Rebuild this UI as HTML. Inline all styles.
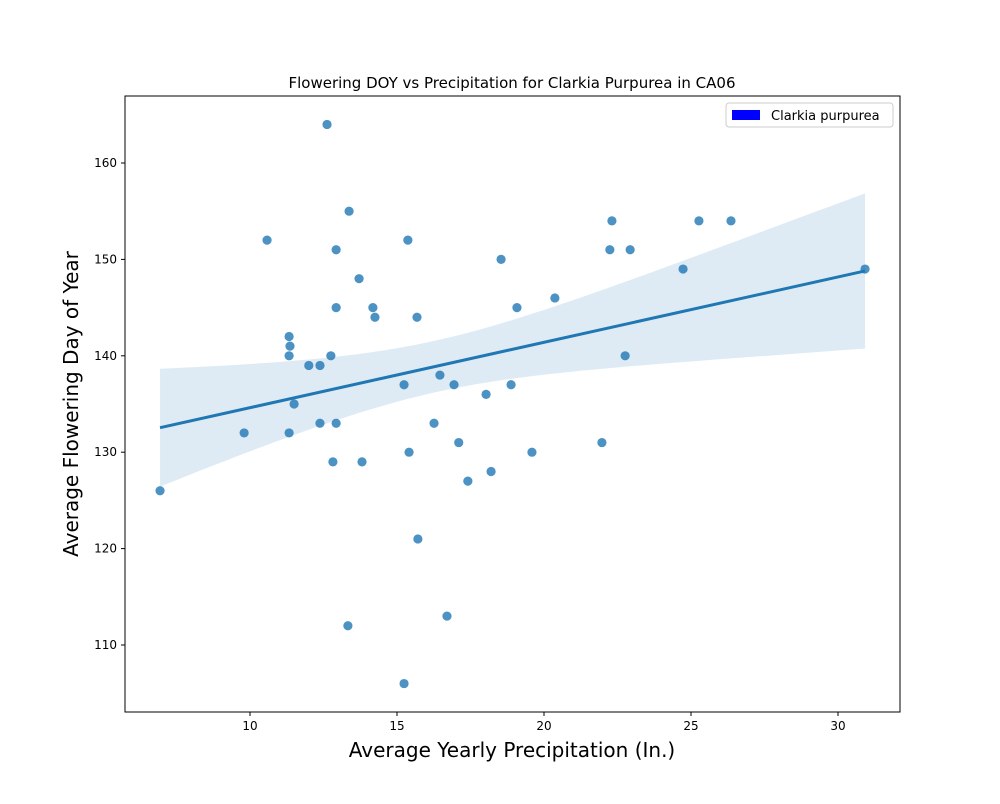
<!DOCTYPE html>
<html><head><meta charset="utf-8"><style>
body{margin:0;background:#fff;font-family:"DejaVu Sans","Liberation Sans",sans-serif}
svg text{font-family:"DejaVu Sans","Liberation Sans",sans-serif}
</style></head><body>
<svg id="chart" width="1000" height="800" xmlns="http://www.w3.org/2000/svg">
<rect width="1000" height="800" fill="#fff"/>
<g id="band"></g><g id="line"></g><g id="pts"></g><g id="axes"></g>
<text x="512" y="88" text-anchor="middle" font-size="15">Flowering DOY vs Precipitation for Clarkia Purpurea in CA06</text>
<text x="512" y="757" text-anchor="middle" font-size="20">Average Yearly Precipitation (In.)</text>
<text transform="translate(78,404) rotate(-90)" text-anchor="middle" font-size="20">Average Flowering Day of Year</text>
<g>
<rect x="726" y="103" width="167" height="24" rx="3" fill="#fff" stroke="#ccc"/>
<rect x="732" y="110" width="28" height="10" fill="#0000ff"/>
<text x="771" y="120" font-size="13">Clarkia purpurea</text>
</g>
</svg>
<script>
const precip=[6.94,9.8,10.58,11.33,11.36,11.33,11.33,11.5,12.0,12.38,12.38,12.62,12.75,12.93,12.93,12.93,12.82,13.37,13.33,13.71,13.81,14.18,14.25,15.24,15.24,15.37,15.41,15.68,15.71,16.26,16.46,16.7,16.94,17.1,17.41,18.03,18.2,18.54,18.88,19.08,19.59,20.37,21.97,22.24,22.31,22.76,22.93,24.73,25.27,26.36,30.92];
const doy=[126,132,152,142,141,140,132,135,139,139,133,164,140,151,145,133,129,155,112,148,129,145,144,137,106,152,130,144,121,133,138,113,137,131,127,136,128,150,137,145,130,146,131,151,154,140,151,149,154,154,149];
const xTicks=[10,15,20,25,30];
const yTicks=[110,120,130,140,150,160];
const L=125,R=900,T=96,B=712;
const X=v=>-44+29.4*v, Y=v=>645-(v-110)*9.64;
const NS="http://www.w3.org/2000/svg";
function mk(p,t,a){const e=document.createElementNS(NS,t);for(const k in a)e.setAttribute(k,a[k]);document.getElementById(p).appendChild(e);return e;}
const n=precip.length;let mx=0,my=0;for(let i=0;i<n;i++){mx+=precip[i];my+=doy[i];}mx/=n;my/=n;
let sxx=0,sxy=0;for(let i=0;i<n;i++){sxx+=(precip[i]-mx)**2;sxy+=(precip[i]-mx)*(doy[i]-my);}
const b=sxy/sxx,a=my-b*mx;let sse=0;for(let i=0;i<n;i++)sse+=(doy[i]-a-b*precip[i])**2;
const s=Math.sqrt(sse/(n-2));
const x0=Math.min(...precip),x1=Math.max(...precip);
let up=[],lo=[];for(let k=0;k<=60;k++){const x=x0+(x1-x0)*k/60;const yh=a+b*x;const f=(x-x0)/(x1-x0);const t=1.75-0.2*f;const se=s*Math.sqrt(1/n+(x-mx)**2/sxx)*t;up.push(X(x)+","+Y(yh+se));lo.unshift(X(x)+","+Y(yh-se));}
let e=mk("band","polygon",{points:up.concat(lo).join(" "),fill:"#1f77b4","fill-opacity":"0.15"});


e=mk("line","line",{x1:X(x0),y1:Y(a+b*x0),x2:X(x1),y2:Y(a+b*x1),stroke:"#1f77b4","stroke-width":3});


for(let i=0;i<n;i++){e=mk("pts","circle",{cx:X(precip[i]),cy:Y(doy[i]),r:4.6,fill:"#1f77b4","fill-opacity":"0.8"});

}
e=mk("axes","rect",{x:L,y:T,width:R-L,height:B-T,fill:"none",stroke:"#000","stroke-width":1});


xTicks.forEach(v=>{mk("axes","line",{x1:X(v),x2:X(v),y1:B,y2:B+4,stroke:"#000"});e=mk("axes","text",{x:X(v),y:B+18,"text-anchor":"middle","font-size":12});e.textContent=v;

});
yTicks.forEach(v=>{mk("axes","line",{x1:L-4,x2:L,y1:Y(v),y2:Y(v),stroke:"#000"});e=mk("axes","text",{x:L-8,y:Y(v)+4,"text-anchor":"end","font-size":12});e.textContent=v;

});
</script>
</body></html>
